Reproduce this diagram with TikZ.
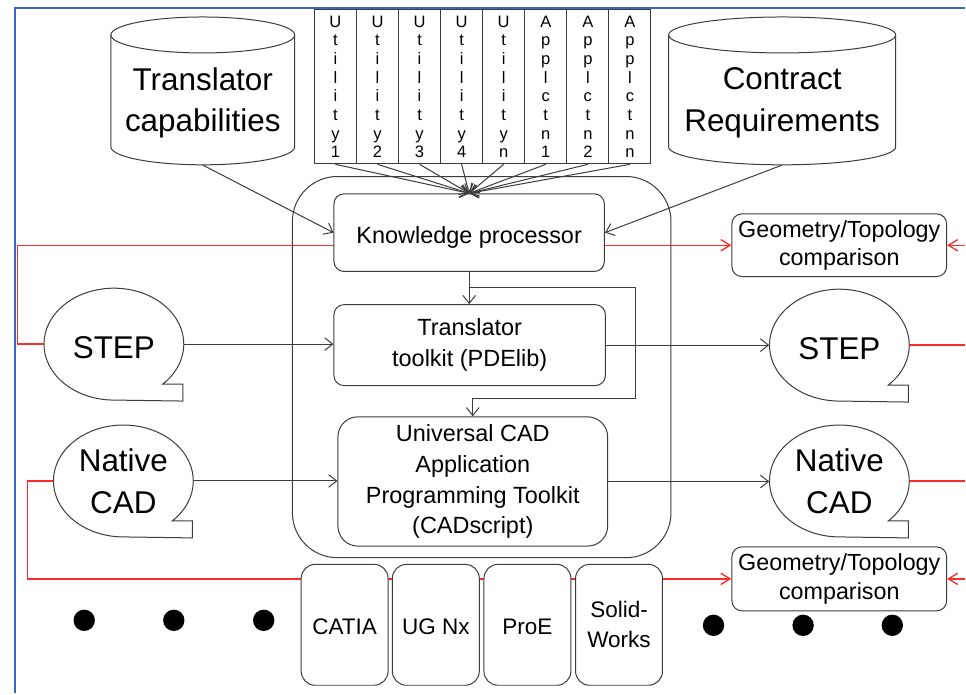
\documentclass[tikz,border=0pt]{standalone}
\usepackage{fontspec}
\setmainfont{Liberation Sans}
\usetikzlibrary{arrows.meta,calc,backgrounds,shapes.geometric}
\definecolor{framecol}{RGB}{58,102,200}
\definecolor{linkred}{RGB}{250,45,45}
\definecolor{ink}{RGB}{60,60,60}

% speech bubble: oval with a square notch at its lower right
% #1 centre, #2 node name, #3 text
\newcommand\talkbubble[3]{%
  \draw[outline,fill=white] (#1) ++(45.6:70 and 56)
    arc[start angle=45.6,end angle=-270,x radius=70,y radius=56]
    -- ++(69,1) -- ++(0,-17) -- cycle;
  \node[bigtxt,ellipse,minimum width=140*0.75pt,minimum height=112*0.75pt] (#2) at (#1) {#3};}

% database cylinder: #1 centre x, #2 left x, #3 right x, #4 x radius
\newcommand\database[4]{%
  \draw[outline,fill=white] (#2,35) -- (#2,147)
    arc[start angle=180,end angle=0,x radius=#4,y radius=18] -- (#3,35);
  \draw[outline] (#1,35) ellipse[x radius=#4,y radius=18];}

\begin{document}
\begin{tikzpicture}[x=0.75pt,y=-0.75pt,
  outline/.style={draw=ink,line width=0.75pt},
  lowered/.style={execute at begin node={\rule{0pt}{#1}}},
  bigtxt/.style={font=\fontsize{23.6pt}{31.3pt}\selectfont,align=center,inner sep=0pt,lowered=0.9em},
  midtxt/.style={font=\fontsize{17.6pt}{23.25pt}\selectfont,align=center,lowered=1.1em},
  procbox/.style={outline,fill=white,rounded corners=7.5pt,midtxt,inner sep=0pt},
  cmpbox/.style={outline,fill=white,rounded corners=7.5pt,align=center,inner sep=0pt,
    font=\fontsize{17.5pt}{21.2pt}\selectfont,lowered=1.1em,minimum width=215*0.75pt},
  cadbox/.style={outline,fill=white,rounded corners=10.5pt,align=center,inner sep=0pt,
    font=\fontsize{16.9pt}{22.5pt}\selectfont,lowered=0.9em,
    minimum width=87*0.75pt,minimum height=121*0.75pt},
  libcol/.style={outline,fill=white,align=center,inner sep=0pt,
    font=\fontsize{12.4pt}{14pt}\selectfont,lowered=1.0em,
    minimum width=42.1*0.75pt,minimum height=154*0.75pt},
  dot/.style={circle,fill=black,inner sep=0pt,minimum size=21.4*0.75pt},
  conn/.style={draw=ink,line width=0.75pt,-{Straight Barb[length=6pt,width=9.5pt]}},
  redline/.style={draw=linkred,line width=1pt},
  redarr/.style={redline,-{Straight Barb[length=7pt,width=8.5pt]}}]

\begin{scope}[on background layer]
  \fill[white] (0,0) rectangle (966,694);
\end{scope}

% page frame
\draw[framecol,line width=1.6pt] (966,7.8) -- (15.3,7.8) -- (15.3,694);

% processing core
\node[outline,rounded corners=33.75pt,inner sep=0pt,
  minimum width=379*0.75pt,minimum height=381.6*0.75pt] (core) at (482.2,367.5) {};

% knowledge sources
\database{203}{111}{295}{92}
\node[inner sep=0pt,minimum width=184*0.75pt,minimum height=148*0.75pt] (tcap) at (203,91) {};
\node[bigtxt] (tcaptxt) at (203,103) {Translator\\capabilities};
\database{783}{669.3}{896.7}{113.7}
\node[inner sep=0pt,minimum width=227.4*0.75pt,minimum height=148*0.75pt] (creq) at (783,91) {};
\node[bigtxt] (creqtxt) at (783,103) {Contract\\Requirements};

% utility and application columns
\foreach \lab [count=\i from 0] in {{U\\t\\i\\l\\i\\t\\y\\1},{U\\t\\i\\l\\i\\t\\y\\2},
    {U\\t\\i\\l\\i\\t\\y\\3},{U\\t\\i\\l\\i\\t\\y\\4},{U\\t\\i\\l\\i\\t\\y\\n},
    {A\\p\\p\\l\\c\\t\\n\\1},{A\\p\\p\\l\\c\\t\\n\\2},{A\\p\\p\\l\\c\\t\\n\\n}}
  \node[libcol] (col\i) at ({314.7+42.125*(\i+0.5)},87) {\lab};

% processing stages
\node[procbox,minimum width=270.7*0.75pt,minimum height=77.7*0.75pt] (kp) at (469.7,232.9) {Knowledge processor};
\node[procbox,minimum width=271.7*0.75pt,minimum height=81*0.75pt] (tt) at (470.2,345.5) {Translator\\toolkit (PDElib)};
\node[procbox,rounded corners=15pt,minimum width=270*0.75pt,minimum height=129.4*0.75pt] (ucad) at (473.3,482)
  {Universal CAD\\Application\\Programming Toolkit\\(CADscript)};

% comparison boxes
\node[cmpbox,minimum height=62.7*0.75pt] (geoT) at (840.2,245.5) {Geometry/Topology\\comparison};
\node[cmpbox,minimum height=64*0.75pt] (geoB) at (840.2,579.5) {Geometry/Topology\\comparison};

% data formats
\talkbubble{114,344.5}{stepL}{STEP}
\talkbubble{123.5,481.5}{nativeL}{Native\\CAD}
\talkbubble{840.3,345.5}{stepR}{STEP}
\talkbubble{840.3,481.5}{nativeR}{Native\\CAD}

% CAD systems
\node[cadbox] (catia) at (345,625.5) {CATIA};
\node[cadbox] (ugnx) at (436.3,625.5) {UG Nx};
\node[cadbox] (proe) at (528,625.5) {ProE};
\node[cadbox] (solid) at (619.7,625.5) {Solid-\\Works};

% further systems
\node[dot] (dl1) at (84.3,621) {};
\node[dot] (dl2) at (174,621) {};
\node[dot] (dl3) at (264,621) {};
\node[dot] (dr1) at (714.3,626) {};
\node[dot] (dr2) at (804,626) {};
\node[dot] (dr3) at (893.3,626) {};

% validation paths (behind the boxes)
\coordinate (redTL) at (17.5,245.5);
\coordinate (redBL) at (27.5,579.5);
\coordinate (rim) at (966,0);
\begin{scope}[on background layer]
  \draw[redarr] (stepL.west) -| (redTL) -- (redTL -| geoT.west);
  \draw[redarr] (nativeL.west) -| (redBL) -- (redBL -| geoB.west);
\end{scope}
\draw[redarr] (rim |- geoT.east) -- (geoT.east);
\draw[redline] (stepR.east) -- (stepR.east -| rim);
\draw[redline] (nativeR.east) -- (nativeR.east -| rim);
\draw[redarr] (rim |- geoB.east) -- (geoB.east);

% data flow
\foreach \i in {0,...,7}
  \draw[conn] (col\i.south) -- (kp.north);
\draw[conn] (tcap.south) -- (kp.west);
\draw[conn] (creq.south) -- (kp.east);
\draw[conn] (kp.south) -- (kp.south |- tt.north);
\coordinate (split) at ($(kp.south)+(0,15.6)$);
\coordinate (jog) at (636,399.3);
\draw[conn] (split) -| (jog) -| (ucad.north);
\draw[conn] (stepL.east) -- (stepL.east -| tt.west);
\draw[conn] (tt.east) -- (tt.east -| stepR.west);
\draw[conn] (nativeL.east) -- (nativeL.east -| ucad.west);
\draw[conn] (ucad.east) -- (ucad.east -| nativeR.west);

\useasboundingbox (0,0) rectangle (966,694);
\end{tikzpicture}
\end{document}
